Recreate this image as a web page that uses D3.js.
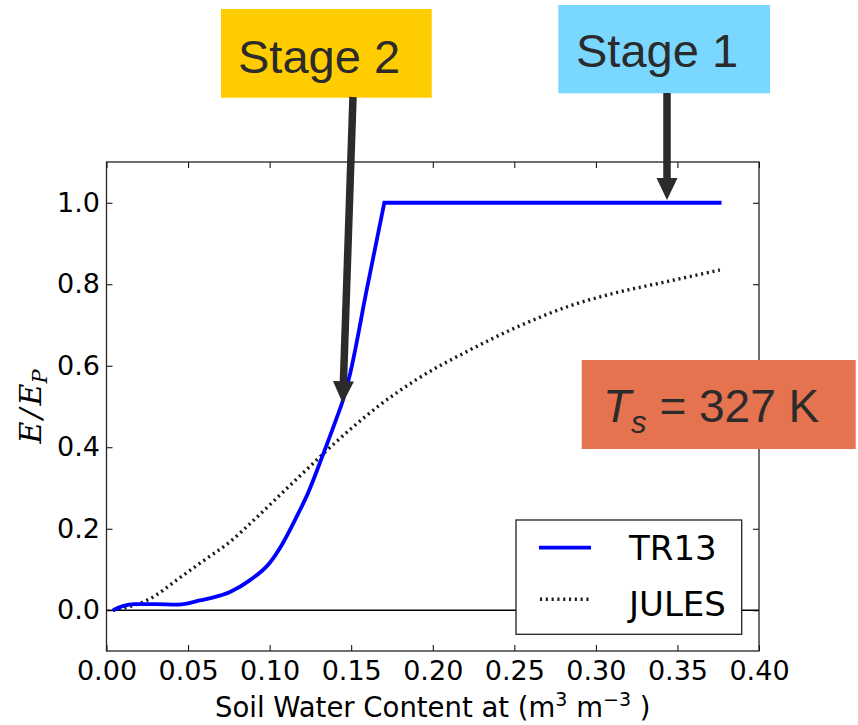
<!DOCTYPE html>
<html><head><meta charset="utf-8">
<script src="https://cdn.jsdelivr.net/npm/d3@7"></script>
<style>body{margin:0;background:#fff}</style>
</head><body><svg id="c" width="858" height="725"></svg>
<script>
// ---- data ----
const tr13X = [0.004,0.010,0.017,0.030,0.043,0.050,0.057,0.065,0.0757,0.088,0.100,0.108,0.1186,0.1227,0.133,0.141,0.145,0.149,0.1595,0.1703,0.377];
const tr13Y = [0.000,0.010,0.015,0.015,0.014,0.017,0.024,0.031,0.045,0.074,0.116,0.164,0.246,0.280,0.385,0.471,0.516,0.575,0.786,1.000,1.000];
const julesX = [0.004,0.015,0.027,0.045,0.060,0.0757,0.090,0.1064,0.120,0.135,0.150,0.1677,0.190,0.2229,0.250,0.2842,0.310,0.3394,0.376];
const julesY = [0.000,0.010,0.029,0.080,0.123,0.168,0.220,0.283,0.335,0.392,0.446,0.504,0.566,0.639,0.692,0.747,0.777,0.803,0.835];
const xTickValues = [0,0.05,0.10,0.15,0.20,0.25,0.30,0.35,0.40];
const yTickValues = [0,0.2,0.4,0.6,0.8,1.0];
const xDomain = [0,0.4];
const yDomain = [-0.1,1.1];
const seriesNames = ["TR13","JULES"];
const stageLabels = ["Stage 2","Stage 1"];
const stageTips = [[0.1448,0.508],[0.3436,1.007]];
const tempLabel = ["T","s"," = 327 K"];

// ---- layout ----
const svg = d3.select("#c");
const L = 106.5, R = 759, T = 162, B = 651;
const x = d3.scaleLinear().domain(xDomain).range([L,R]);
const y = d3.scaleLinear().domain(yDomain).range([B,T]);
const FONT = "'DejaVu Sans', sans-serif";

// zero line
svg.append("line").attr("x1",L).attr("x2",R).attr("y1",y(0)).attr("y2",y(0))
  .attr("stroke","#000").attr("stroke-width",1.3);

// series
const tr13 = tr13X.map((v,i)=>[v,tr13Y[i]]);
const jules = julesX.map((v,i)=>[v,julesY[i]]);
const cornerIdx = tr13Y.indexOf(1.0);
const lineM = d3.line().x(d=>x(d[0])).y(d=>y(d[1])).curve(d3.curveMonotoneX);

svg.append("path").attr("d",lineM(jules)).attr("fill","none")
  .attr("stroke","#1a1a1a").attr("stroke-width",3.4).attr("stroke-dasharray","2.1,3.7");
let dTR = lineM(tr13.slice(0,cornerIdx+1));
tr13.slice(cornerIdx+1).forEach(p=>{ dTR += "L" + x(p[0]) + "," + y(p[1]); });
svg.append("path").attr("d",dTR)
  .attr("fill","none").attr("stroke","#0000ff").attr("stroke-width",3.8).attr("stroke-linejoin","miter");

// axes
const gx = svg.append("g").attr("transform",`translate(0,${B})`)
  .call(d3.axisBottom(x).tickValues(xTickValues).tickFormat(d3.format(".2f")).tickSizeInner(-6).tickSizeOuter(0).tickPadding(10));
const gy = svg.append("g").attr("transform",`translate(${L},0)`)
  .call(d3.axisLeft(y).tickValues(yTickValues).tickFormat(d3.format(".1f")).tickSizeInner(-6).tickSizeOuter(0).tickPadding(6.5));
const gt = svg.append("g").attr("transform",`translate(0,${T})`)
  .call(d3.axisTop(x).tickValues(xTickValues).tickFormat("").tickSizeInner(-6).tickSizeOuter(0));
const gr = svg.append("g").attr("transform",`translate(${R},0)`)
  .call(d3.axisRight(y).tickValues(yTickValues).tickFormat("").tickSizeInner(-6).tickSizeOuter(0));
[gx,gy,gt,gr].forEach(g=>{
  g.select(".domain").remove();
  g.selectAll(".tick line").attr("stroke","#000").attr("stroke-width",1);
  g.selectAll("text").attr("font-family",FONT).attr("font-size",27).attr("fill","#000");
});
svg.append("rect").attr("x",L).attr("y",T).attr("width",R-L).attr("height",B-T)
  .attr("fill","none").attr("stroke","#222").attr("stroke-width",1.3);

// x label
const xl = svg.append("text").attr("x",(L+R)/2).attr("y",717).attr("text-anchor","middle")
  .attr("font-family",FONT).attr("font-size",27.5).attr("fill","#000");
xl.append("tspan").text("Soil Water Content at (m");
xl.append("tspan").attr("font-size",19).attr("dy",-11).text("3");
xl.append("tspan").attr("dy",11).text(" m");
xl.append("tspan").attr("font-size",19).attr("dy",-11).text("\u22123");
xl.append("tspan").attr("dy",11).text(" )");

// y label
const yl = svg.append("text").attr("transform",`translate(41,${(T+B)/2}) rotate(-90)`)
  .attr("text-anchor","middle").attr("font-family","'DejaVu Serif', serif").attr("font-style","italic")
  .attr("font-size",30).attr("fill","#000");
yl.append("tspan").text("E");
yl.append("tspan").attr("dx",3).text("/");
yl.append("tspan").attr("dx",3).text("E");
yl.append("tspan").attr("font-size",21).attr("dy",6).text("P");

// legend
const lg = svg.append("g");
lg.append("rect").attr("x",516).attr("y",520).attr("width",225.7).attr("height",114.3)
  .attr("fill","#fff").attr("stroke","#222").attr("stroke-width",1.3);
lg.append("line").attr("x1",539).attr("x2",591).attr("y1",547.7).attr("y2",547.7)
  .attr("stroke","#0000ff").attr("stroke-width",3.8);
lg.append("line").attr("x1",540).attr("x2",590).attr("y1",599.3).attr("y2",599.3)
  .attr("stroke","#1a1a1a").attr("stroke-width",3.4).attr("stroke-dasharray","2.1,3.7");
lg.selectAll("text.leg").data(seriesNames).join("text").attr("class","leg")
  .attr("x",629).attr("y",(d,i)=>i===0?560:615.5)
  .attr("font-family",FONT).attr("font-size",34).attr("fill","#000").text(d=>d);

// annotation boxes
const AF = "'Liberation Sans', Arial, sans-serif";
const boxes = [
  {x:221,y:9,w:210.7,h:88.7,fill:"#FFCC00",tx:238,ty:72.5},
  {x:558.3,y:5,w:211.7,h:88.3,fill:"#7AD7FF",tx:576,ty:66.5}
];
boxes.forEach((b,i)=>{
  svg.append("rect").attr("x",b.x).attr("y",b.y).attr("width",b.w).attr("height",b.h).attr("fill",b.fill);
  svg.append("text").attr("x",b.tx).attr("y",b.ty).attr("font-family",AF).attr("font-size",47)
    .attr("fill","#2b2b2b").text(stageLabels[i]);
});
// temperature box
svg.append("rect").attr("x",581.7).attr("y",360).attr("width",274).attr("height",89).attr("fill","#E5734F");
const tt = svg.append("text").attr("x",603).attr("y",422.3).attr("font-family",AF).attr("font-size",46).attr("fill","#2b2b2b");
tt.append("tspan").attr("font-style","italic").text(tempLabel[0]);
tt.append("tspan").attr("font-style","italic").attr("font-size",31).attr("dy",11).attr("dx",0).text(tempLabel[1]);
tt.append("tspan").attr("dy",-11).text(tempLabel[2]);

// arrows
const arrowStarts = [[353,97],[667,93]];
arrowStarts.forEach((s,i)=>{
  const tx = x(stageTips[i][0]), ty = y(stageTips[i][1]);
  const dx = tx-s[0], dy = ty-s[1], len = Math.hypot(dx,dy);
  const ux = dx/len, uy = dy/len, hl = 22, hw = 10.5;
  const bx = tx-ux*hl, by = ty-uy*hl;
  svg.append("line").attr("x1",s[0]).attr("y1",s[1]).attr("x2",bx+ux*1).attr("y2",by+uy*1)
    .attr("stroke","#2b2b2b").attr("stroke-width",7.5);
  svg.append("path").attr("d",`M${tx},${ty}L${bx-uy*hw},${by+ux*hw}L${bx+uy*hw},${by-ux*hw}Z`)
    .attr("fill","#2b2b2b");
});
</script></body></html>
